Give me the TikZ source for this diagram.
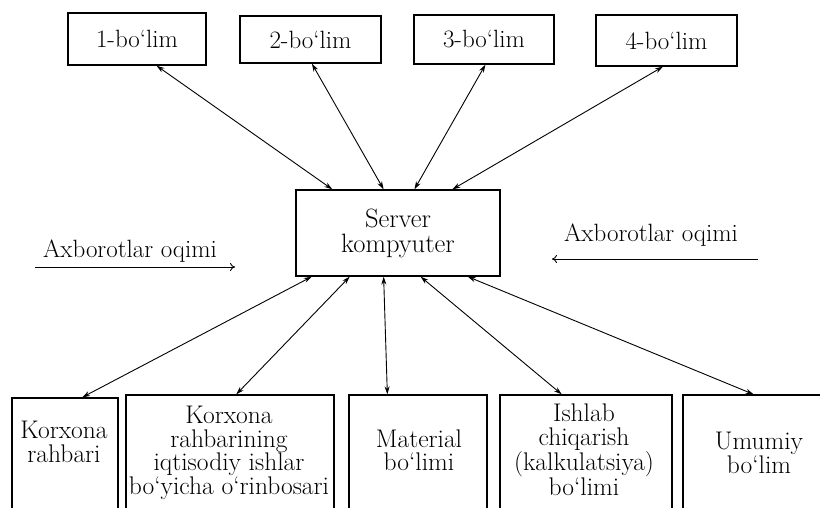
\documentclass[tikz,border=0pt]{standalone}
\usetikzlibrary{arrows.meta,calc}
\begin{document}
\begin{tikzpicture}[x=1pt,y=-1pt,
  box/.style={draw,line width=1.3pt,inner sep=0pt},
  topf/.style={font=\fontsize{25}{26}\selectfont},
  lbl/.style={inner sep=0pt,align=center,font=\fontsize{25.5}{23.5}\selectfont},
  link/.style={line width=0.9pt,{Stealth[length=8pt,width=5pt]}-{Stealth[length=8pt,width=5pt]}},
  flow/.style={line width=0.9pt,-{To[length=5pt,width=8pt]}}]
\useasboundingbox (0,0) rectangle (820,507);
\clip (0,0) rectangle (820,507);
% top boxes
\node[box,topf,minimum width=138pt,minimum height=52pt] (b1) at (137,39) {1-bo`lim};
\node[box,topf,minimum width=141pt,minimum height=47pt] (b2) at (310.5,39.5) {2-bo`lim};
\node[box,topf,minimum width=140pt,minimum height=49pt] (b3) at (484,39.5) {3-bo`lim};
\node[box,topf,minimum width=141pt,minimum height=51pt] (b4) at (666.5,40.5) {4-bo`lim};
% server
\node[box,minimum width=204pt,minimum height=86pt,align=center,font=\fontsize{26.5}{25}\selectfont] (srv) at (398,233) {Server\\kompyuter};
% bottom boxes
\node[box,minimum width=106pt,minimum height=132pt] (c1) at (65,464) {};
\node[box,minimum width=208pt,minimum height=135pt] (c2) at (230,462.5) {};
\node[box,minimum width=138pt,minimum height=135pt] (c3) at (418,462.5) {};
\node[box,minimum width=172pt,minimum height=135pt] (c4) at (586,462.5) {};
\node[box,minimum width=157pt,minimum height=135pt] (c5) at (761.5,462.5) {};
\node[lbl] (t1) at (64,442) {Korxona\\rahbari};
\node[lbl] (t2) at (229,453) {Korxona\\rahbarining\\iqtisodiy ishlar\\bo`yicha o`rinbosari};
\node[lbl] (t3) at (419,450) {Material\\bo`limi};
\node[lbl] (t4) at (584,450) {Ishlab\\chiqarish\\(kalkulatsiya)\\bo`limi};
\node[lbl] (t5) at (759,453) {Umumiy\\bo`lim};
% flow labels
\node[lbl,topf] (fl) at (130,251) {Axborotlar oqimi};
\node[lbl,topf] (fr) at (651,235) {Axborotlar oqimi};
\coordinate (fl1) at (35,267);
\coordinate (fl2) at (235,267);
\coordinate (fr1) at (758,259);
\coordinate (fr2) at (552,259);
\draw[flow] (fl1) -- (fl2);
\draw[flow] (fr1) -- (fr2);
% top links
\draw[link] ($(b1.south west)!0.64!(b1.south east)$) -- ($(srv.north west)!0.18!(srv.north east)$);
\draw[link] ($(b2.south west)!0.51!(b2.south east)$) -- ($(srv.north west)!0.43!(srv.north east)$);
\draw[link] ($(b3.south west)!0.51!(b3.south east)$) -- ($(srv.north west)!0.58!(srv.north east)$);
\draw[link] ($(b4.south west)!0.475!(b4.south east)$) -- ($(srv.north west)!0.765!(srv.north east)$);
% bottom links
\draw[link] ($(srv.south west)!0.08!(srv.south east)$) -- ($(c1.north west)!0.66!(c1.north east)$);
\draw[link] ($(srv.south west)!0.265!(srv.south east)$) -- ($(c2.north west)!0.53!(c2.north east)$);
\draw[link] ($(srv.south west)!0.43!(srv.south east)$) -- ($(c3.north west)!0.28!(c3.north east)$);
\draw[link] ($(srv.south west)!0.61!(srv.south east)$) -- ($(c4.north west)!0.36!(c4.north east)$);
\draw[link] ($(srv.south west)!0.84!(srv.south east)$) -- ($(c5.north west)!0.45!(c5.north east)$);
\end{tikzpicture}
\end{document}
